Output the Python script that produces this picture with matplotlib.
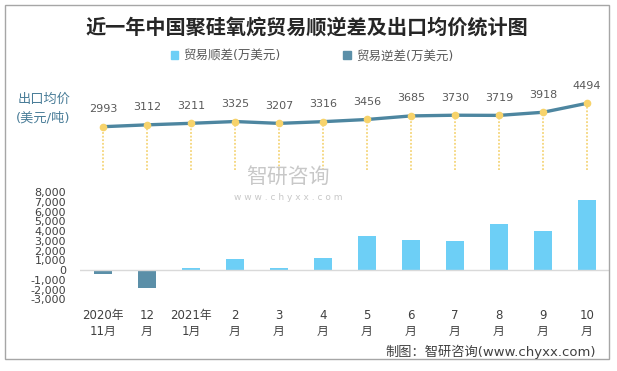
import matplotlib
matplotlib.use("Agg")
import matplotlib.pyplot as plt
from matplotlib.patches import Patch, Rectangle

plt.rcParams['font.family'] = ['DejaVu Sans', 'Noto Sans CJK SC']

months = ["2020年\n11月", "12\n月", "2021年\n1月", "2\n月", "3\n月", "4\n月",
          "5\n月", "6\n月", "7\n月", "8\n月", "9\n月", "10\n月"]
price = [2993, 3112, 3211, 3325, 3207, 3316, 3456, 3685, 3730, 3719, 3918, 4494]
surplus = [0, 0, 200, 1150, 200, 1250, 3500, 3080, 2980, 4720, 4000, 7180]
deficit = [-380, -1800, 0, 0, 0, 0, 0, 0, 0, 0, 0, 0]
yticks = list(range(-3000, 9000, 1000))

W, H = 617, 371
fig = plt.figure(figsize=(W / 100, H / 100), dpi=100)


def box(x0, y0, x1, y1):
    # pixel box (top-left origin) -> figure fraction
    return [x0 / W, 1 - y1 / H, (x1 - x0) / W, (y1 - y0) / H]


fig.patches.append(Rectangle((5 / W, 1 - 359 / H), 604 / W, 354 / H,
                             transform=fig.transFigure, fill=False,
                             edgecolor="#a6a6a6", linewidth=1))

x = list(range(len(months)))
xlim = (-0.52, 11.5)

# price line panel
ax1 = fig.add_axes(box(80, 90, 609, 170))
ax1.set_xlim(xlim)
ax1.set_ylim(217, 5347)
ax1.axis("off")
ax1.vlines(x, 217, price, colors="#f5d57a", linestyles=(0, (1, 1)), linewidth=1.3)
ax1.plot(x, price, color="#4d86a0", linewidth=2.4, zorder=3)
ax1.plot(x, price, "o", color="#f7d36b", markersize=4.5, zorder=4)
for xi, p in zip(x, price):
    ax1.annotate(str(p), (xi, p), xytext=(0, 9), textcoords="offset points",
                 ha="center", va="bottom", fontsize=8, color="#595959")

# trade balance bars
ax2 = fig.add_axes(box(80, 192, 609, 299.3))
ax2.bar(x, surplus, width=0.41, color="#6dcff6")
ax2.bar(x, deficit, width=0.41, color="#5b8fa8")
ax2.set_xlim(xlim)
ax2.set_ylim(-3000, 8000)
ax2.set_yticks(yticks)
ax2.set_yticklabels([f"{v:,}" for v in yticks], fontsize=8, color="#404040")
ax2.set_xticks(x)
ax2.set_xticklabels(months, fontsize=8.5, color="#404040", linespacing=1.25)
ax2.tick_params(length=0)
ax2.tick_params(axis="x", pad=7)
ax2.tick_params(axis="y", pad=10)
for s in ax2.spines.values():
    s.set_visible(False)
ax2.axhline(0, color="#d9d9d9", linewidth=1)

fig.text(307 / W, 1 - 27 / H, "近一年中国聚硅氧烷贸易顺逆差及出口均价统计图",
         ha="center", va="center", fontsize=14.5, fontweight="bold",
         color="#262626", family=["Noto Sans CJK SC"])

handles = [Patch(color="#6dcff6"), Patch(color="#5b8fa8")]
fig.legend(handles, ["贸易顺差(万美元)", "贸易逆差(万美元)"], ncol=2,
           loc="center", bbox_to_anchor=(312 / W, 1 - 56 / H), frameon=False,
           fontsize=9, handlelength=0.6, handleheight=0.6, handletextpad=0.4,
           columnspacing=5.0, labelcolor="#595959")

fig.text(18 / W, 1 - 99 / H, "出口均价", fontsize=9.5, color="#4a7d98",
         va="center", ha="left")
fig.text(16 / W, 1 - 118 / H, "(美元/吨)", fontsize=9.5, color="#4a7d98",
         va="center", ha="left")

# watermark
fig.text(288 / W, 1 - 177 / H, "智研咨询", fontsize=15, color="#c8c8c8",
         ha="center", va="center")
fig.text(288 / W, 1 - 197 / H, "w w w . c h y x x . c o m", fontsize=6.5,
         color="#c8c8c8", ha="center", va="center")

fig.text(596 / W, 1 - 352 / H, "制图：智研咨询(www.chyxx.com)", fontsize=9.5,
         color="#404040", ha="right", va="center")

fig.savefig("out.png", dpi=100)
